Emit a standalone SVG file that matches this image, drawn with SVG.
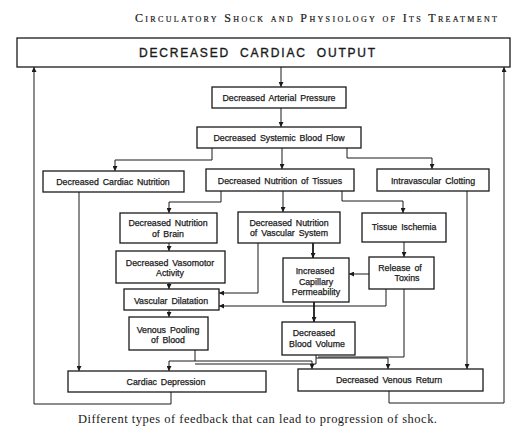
<svg xmlns="http://www.w3.org/2000/svg" width="520" height="443" viewBox="0 0 520 443">
<defs>
<marker id="ah" viewBox="0 0 6 6" refX="6" refY="3" markerWidth="5" markerHeight="5" markerUnits="userSpaceOnUse" orient="auto">
<path d="M0,0 L6,3 L0,6 Z" fill="#1a1a1a"/>
</marker>
<style>
.bx{fill:#fff;stroke:#1a1a1a;stroke-width:1.3}
.t{font-family:"Liberation Sans",Arial,sans-serif;font-size:8.8px;fill:#1a1a1a;stroke:#1a1a1a;stroke-width:0.25;text-anchor:middle;word-spacing:1.5px}
.c{fill:none;stroke:#1a1a1a;stroke-width:1}
.ca{fill:none;stroke:#1a1a1a;stroke-width:1;marker-end:url(#ah)}
.thick{stroke-width:1.8}
</style>
</defs>
<rect width="520" height="443" fill="#fff"/>
<text x="135" y="22" font-family="Liberation Serif,Times New Roman,serif" font-size="12" font-variant="small-caps" fill="#1a1a1a" stroke="#1a1a1a" stroke-width="0.2" textLength="362" lengthAdjust="spacing">Circulatory Shock and Physiology of Its Treatment</text>

<g id="connectors">
<path class="ca" d="M281,67 V87"/>
<path class="ca" d="M281,108 V127"/>
<path class="ca" d="M212,148 V160 H115 V171"/>
<path class="ca" d="M282,148 V169"/>
<path class="ca" d="M347,148 V158 H432 V169"/>
<path class="ca" d="M221,191 V202 H169 V213"/>
<path class="ca" d="M283,191 V212"/>
<path class="ca" d="M342,191 V201 H403 V213"/>
<path class="ca" d="M169,243 V251"/>
<path class="ca" d="M169,283 V289"/>
<path class="ca" d="M169,310 V317"/>
<path class="ca" d="M258,243 V293 H219"/>
<path class="ca thick" d="M313,243 V258"/>
<path class="ca" d="M404,242 V257"/>
<path class="ca" d="M369,274 H349"/>
<path class="ca" d="M386,289 V306 H219"/>
<path class="ca thick" d="M314,302 V322"/>
<path class="ca" d="M79,192 V371"/>
<path class="ca" d="M467,191 V369"/>
<path class="ca" d="M195,350 V361 H169 V371"/>
<path class="ca" d="M195,361 H312 V369"/>
<path class="c" d="M316,355 V364 H195"/>
<path class="ca" d="M316,358 H388 V369"/>
<path class="c" d="M404,289 V357 H318"/>
<path class="ca" d="M171,392 V404 H34 V67"/>
<path class="ca" d="M389,391 V403 H504 V67"/>
</g>

<g id="n-cardiac-output">
<rect class="bx" x="17" y="38" width="493" height="29"/>
<text x="258" y="57" font-family="Liberation Sans,Arial,sans-serif" font-size="12" fill="#1a1a1a" stroke="#1a1a1a" stroke-width="0.35" text-anchor="middle" letter-spacing="1.8" word-spacing="5">DECREASED CARDIAC OUTPUT</text>
</g>
<g id="n-arterial">
<rect class="bx" x="212" y="87" width="134" height="21"/>
<text class="t" x="279" y="101">Decreased Arterial Pressure</text>
</g>
<g id="n-systemic">
<rect class="bx" x="197" y="127" width="164" height="21"/>
<text class="t" x="279" y="141">Decreased Systemic Blood Flow</text>
</g>
<g id="n-cardiac-nutrition">
<rect class="bx" x="43" y="171" width="141" height="21"/>
<text class="t" x="113" y="185">Decreased Cardiac Nutrition</text>
</g>
<g id="n-tissues">
<rect class="bx" x="206" y="169" width="148" height="22"/>
<text class="t" x="280" y="184">Decreased Nutrition of Tissues</text>
</g>
<g id="n-clotting">
<rect class="bx" x="377" y="169" width="112" height="22"/>
<text class="t" x="433" y="184">Intravascular Clotting</text>
</g>
<g id="n-brain">
<rect class="bx" x="120" y="213" width="97" height="30"/>
<text class="t" x="168" y="226">Decreased Nutrition</text>
<text class="t" x="168" y="237">of Brain</text>
</g>
<g id="n-vascular-system">
<rect class="bx" x="238" y="212" width="102" height="31"/>
<text class="t" x="289" y="226">Decreased Nutrition</text>
<text class="t" x="289" y="236">of Vascular System</text>
</g>
<g id="n-ischemia">
<rect class="bx" x="362" y="213" width="84" height="29"/>
<text class="t" x="404" y="230">Tissue Ischemia</text>
</g>
<g id="n-vasomotor">
<rect class="bx" x="116" y="251" width="109" height="32"/>
<text class="t" x="170" y="266">Decreased Vasomotor</text>
<text class="t" x="170" y="276">Activity</text>
</g>
<g id="n-dilatation">
<rect class="bx" x="124" y="289" width="95" height="21"/>
<text class="t" x="171" y="304">Vascular Dilatation</text>
</g>
<g id="n-pooling">
<rect class="bx" x="129" y="317" width="79" height="33"/>
<text class="t" x="168" y="333">Venous Pooling</text>
<text class="t" x="168" y="343">of Blood</text>
</g>
<g id="n-permeability">
<rect class="bx" x="283" y="258" width="66" height="44"/>
<text class="t" x="315" y="274">Increased</text>
<text class="t" x="316" y="285">Capillary</text>
<text class="t" x="316" y="295">Permeability</text>
</g>
<g id="n-toxins">
<rect class="bx" x="369" y="257" width="65" height="32"/>
<text class="t" x="400" y="271">Release of</text>
<text class="t" x="407" y="281">Toxins</text>
</g>
<g id="n-blood-volume">
<rect class="bx" x="282" y="322" width="73" height="33"/>
<text class="t" x="314" y="336">Decreased</text>
<text class="t" x="317" y="347">Blood Volume</text>
</g>
<g id="n-cardiac-depression">
<rect class="bx" x="68" y="371" width="198" height="21"/>
<text class="t" x="166" y="385">Cardiac Depression</text>
</g>
<g id="n-venous-return">
<rect class="bx" x="298" y="369" width="185" height="22"/>
<text class="t" x="389" y="383">Decreased Venous Return</text>
</g>

<text x="78" y="423" font-family="Liberation Serif,Times New Roman,serif" font-size="12.5" fill="#1a1a1a" textLength="359" lengthAdjust="spacing">Different types of feedback that can lead to progression of shock.</text>
</svg>
